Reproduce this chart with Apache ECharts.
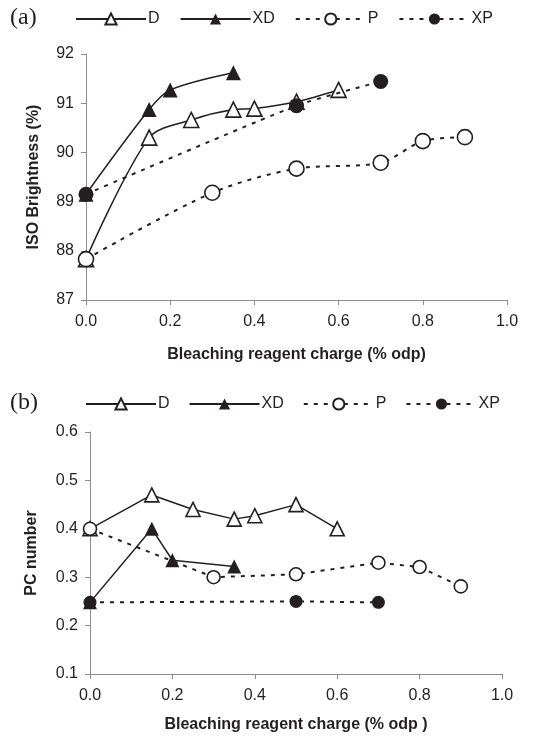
<!DOCTYPE html>
<html>
<head>
<meta charset="utf-8">
<script src="https://cdn.jsdelivr.net/npm/echarts@6/dist/echarts.min.js"></script>
<style>html,body{margin:0;padding:0;background:#fff;}#c{width:547px;height:739px;}</style>
</head>
<body>
<div id="c"></div>
<script>
// ---- data ----
const seriesNames = ['D', 'XD', 'P', 'XP'];
const xTicks = [0.0, 0.2, 0.4, 0.6, 0.8, 1.0];

// (a) ISO Brightness (%)
const aD_x  = [0, 0.15, 0.25, 0.35, 0.4, 0.5, 0.6];
const aD_y  = [87.83, 90.30, 90.66, 90.87, 90.89, 91.03, 91.27];
const aXD_x = [0, 0.15, 0.2, 0.35];
const aXD_y = [89.15, 90.87, 91.27, 91.62];
const aP_x  = [0, 0.3, 0.5, 0.7, 0.8, 0.9];
const aP_y  = [87.83, 89.18, 89.67, 89.79, 90.23, 90.31];
const aXP_x = [0, 0.5, 0.7];
const aXP_y = [89.15, 90.95, 91.44];

// (b) PC number
const bD_x  = [0, 0.15, 0.25, 0.35, 0.4, 0.5, 0.6];
const bD_y  = [0.40, 0.47, 0.44, 0.42, 0.427, 0.45, 0.40];
const bXD_x = [0, 0.15, 0.2, 0.35];
const bXD_y = [0.248, 0.40, 0.335, 0.322];
const bP_x  = [0, 0.3, 0.5, 0.7, 0.8, 0.9];
const bP_y  = [0.40, 0.30, 0.306, 0.330, 0.321, 0.281];
const bXP_x = [0, 0.5, 0.7];
const bXP_y = [0.248, 0.250, 0.248];

const pairs = (xs, ys) => xs.map((x, i) => [x, ys[i]]);
const INK = '#231f20';
const AX = '#8c8c8c';
const FONT = 'Liberation Sans';

function mkSeries(name, data, grid, smooth, size) {
  const open = (name === 'D' || name === 'P');
  const tri = (name === 'D' || name === 'XD');
  const dashed = (name === 'P' || name === 'XP');
  return {
    name: name, type: 'line', xAxisIndex: grid, yAxisIndex: grid,
    data: data, smooth: smooth,
    symbol: tri ? 'triangle' : 'circle',
    symbolSize: tri ? size + 1 : size,
    z: open ? 3 : 4,
    lineStyle: { color: INK, width: dashed ? 2 : 1.5, type: dashed ? [4, 6] : 'solid' },
    itemStyle: { color: open ? '#fff' : INK, borderColor: INK, borderWidth: open ? 1.6 : 0 },
    emphasis: { disabled: true },
    animation: false
  };
}

function xAxisDef(grid, name, gap) {
  return {
    type: 'value', gridIndex: grid, min: 0, max: 1, interval: 0.2,
    name: name, nameLocation: 'middle', nameGap: gap,
    nameTextStyle: { fontFamily: FONT, fontSize: 16, fontWeight: 'bold', color: INK },
    axisLine: { show: true, lineStyle: { color: AX, width: 1 } },
    axisTick: { show: true, inside: false, length: 5, lineStyle: { color: AX } },
    axisLabel: { fontFamily: FONT, fontSize: 16, color: INK, margin: 14,
      formatter: v => (+v).toFixed(1) },
    splitLine: { show: false }
  };
}
function yAxisDef(grid, name, min, max, interval, dec, gap) {
  return {
    type: 'value', gridIndex: grid, min: min, max: max, interval: interval,
    name: name, nameLocation: 'middle', nameGap: gap, nameRotate: 90,
    nameTextStyle: { fontFamily: FONT, fontSize: 16, fontWeight: 'bold', color: INK },
    axisLine: { show: true, lineStyle: { color: AX, width: 1 } },
    axisTick: { show: true, inside: false, length: 5, lineStyle: { color: AX } },
    axisLabel: { fontFamily: FONT, fontSize: 16, color: INK, margin: 12,
      formatter: v => (+v).toFixed(dec) },
    splitLine: { show: false }
  };
}

const legendCommon = {
  data: seriesNames, orient: 'horizontal', itemWidth: 70, itemHeight: 14,
  textStyle: { fontFamily: FONT, fontSize: 16, color: INK, padding: [0, 0, 0, -3] },
  selectedMode: false
};

const chart = echarts.init(document.getElementById('c'), null, { renderer: 'canvas' });
chart.setOption({
  backgroundColor: '#fff',
  animation: false,
  textStyle: { fontFamily: FONT },
  title: [
    { text: '(a)', left: 5, top: 1, textStyle: { fontFamily: 'Liberation Serif', fontSize: 24, fontWeight: 'normal', color: INK } },
    { text: '(b)', left: 5, top: 386, textStyle: { fontFamily: 'Liberation Serif', fontSize: 24, fontWeight: 'normal', color: INK } }
  ],
  legend: [
    Object.assign({}, legendCommon, { left: 70, top: 6, itemGap: 20 }),
    Object.assign({}, legendCommon, { left: 80, top: 391, itemGap: 19 })
  ],
  grid: [
    { left: 86, right: 40, top: 54, bottom: 439 },
    { left: 90, right: 45, top: 432, bottom: 65 }
  ],
  xAxis: [
    xAxisDef(0, 'Bleaching reagent charge (% odp)', 47),
    xAxisDef(1, 'Bleaching reagent charge (% odp )', 43)
  ],
  yAxis: [
    yAxisDef(0, 'ISO Brightness (%)', 87, 92, 1, 0, 44),
    yAxisDef(1, 'PC number', 0.1, 0.6, 0.1, 1, 50)
  ],
  series: [
    mkSeries('D', pairs(aD_x, aD_y), 0, 0.3, 14),
    mkSeries('XD', pairs(aXD_x, aXD_y), 0, 0.3, 14),
    mkSeries('P', pairs(aP_x, aP_y), 0, 0.3, 15),
    mkSeries('XP', pairs(aXP_x, aXP_y), 0, 0.2, 15),
    mkSeries('D', pairs(bD_x, bD_y), 1, false, 13),
    mkSeries('XD', pairs(bXD_x, bXD_y), 1, false, 13),
    mkSeries('P', pairs(bP_x, bP_y), 1, false, 13),
    mkSeries('XP', pairs(bXP_x, bXP_y), 1, false, 13)
  ]
});
</script>
</body>
</html>
